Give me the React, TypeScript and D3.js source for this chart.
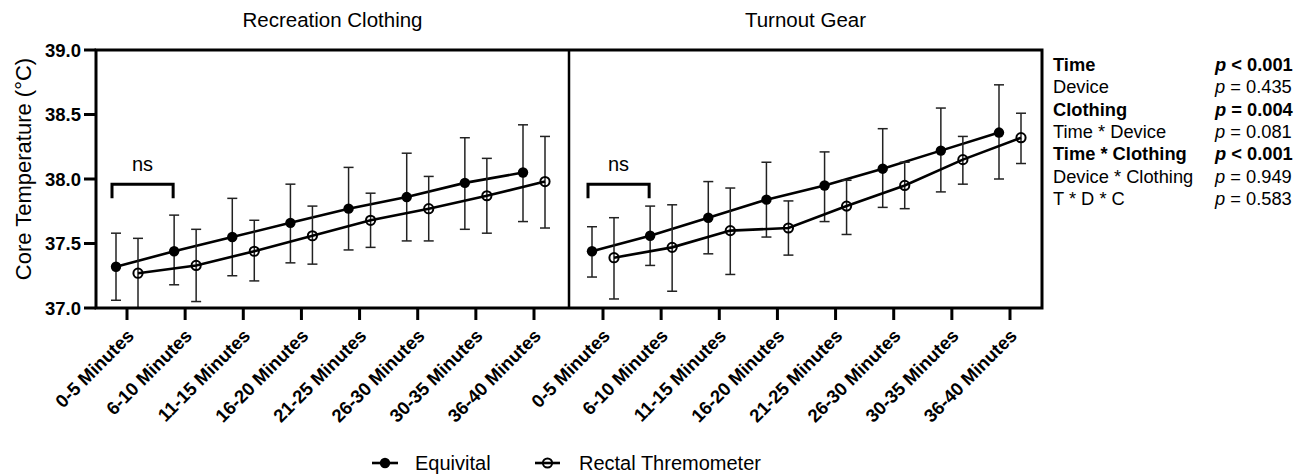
import React from "react";
import * as d3 from "d3";

// time bins (x categories)
const timeBins = [
  "0-5 Minutes",
  "6-10 Minutes",
  "11-15 Minutes",
  "16-20 Minutes",
  "21-25 Minutes",
  "26-30 Minutes",
  "30-35 Minutes",
  "36-40 Minutes",
];

const yTicks = [37.0, 37.5, 38.0, 38.5, 39.0];

// Recreation clothing
const recEquivMean = [37.32, 37.44, 37.55, 37.66, 37.77, 37.86, 37.97, 38.05];
const recEquivLo = [37.06, 37.18, 37.25, 37.35, 37.45, 37.52, 37.61, 37.67];
const recEquivHi = [37.58, 37.72, 37.85, 37.96, 38.09, 38.2, 38.32, 38.42];
const recRectalMean = [37.27, 37.33, 37.44, 37.56, 37.68, 37.77, 37.87, 37.98];
const recRectalLo = [36.96, 37.05, 37.21, 37.34, 37.47, 37.52, 37.58, 37.62];
const recRectalHi = [37.54, 37.61, 37.68, 37.79, 37.89, 38.02, 38.16, 38.33];

// Turnout gear
const toEquivMean = [37.44, 37.56, 37.7, 37.84, 37.95, 38.08, 38.22, 38.36];
const toEquivLo = [37.24, 37.33, 37.42, 37.55, 37.67, 37.78, 37.9, 38.0];
const toEquivHi = [37.63, 37.79, 37.98, 38.13, 38.21, 38.39, 38.55, 38.73];
const toRectalMean = [37.39, 37.47, 37.6, 37.62, 37.79, 37.95, 38.15, 38.32];
const toRectalLo = [37.07, 37.13, 37.26, 37.41, 37.57, 37.77, 37.96, 38.12];
const toRectalHi = [37.7, 37.8, 37.93, 37.83, 37.99, 38.13, 38.33, 38.51];

const panelTitles = ["Recreation Clothing", "Turnout Gear"];
const nsLabel = "ns";
const bracketTop = 37.96;
const bracketLeg = 37.85;

const statTerms = [
  "Time",
  "Device",
  "Clothing",
  "Time * Device",
  "Time * Clothing",
  "Device * Clothing",
  "T * D * C",
];
const statOps = ["<", "=", "=", "=", "<", "=", "="];
const statValues = ["0.001", "0.435", "0.004", "0.081", "0.001", "0.949", "0.583"];
const statBold = [true, false, true, false, true, false, false];

const legendLabels = ["Equivital", "Rectal Thremometer"];

const W = 1309;
const H = 476;
const top = 50;
const bottom = 308;
const font = "'Liberation Sans', Arial, Helvetica, sans-serif";

const y = d3.scaleLinear().domain([37, 39]).range([bottom, top]);

const panels = [
  {
    x0: 96,
    x1: 569,
    inset: [31, 35],
    equiv: { mean: recEquivMean, lo: recEquivLo, hi: recEquivHi },
    rectal: { mean: recRectalMean, lo: recRectalLo, hi: recRectalHi },
  },
  {
    x0: 569,
    x1: 1042,
    inset: [34, 32],
    equiv: { mean: toEquivMean, lo: toEquivLo, hi: toEquivHi },
    rectal: { mean: toRectalMean, lo: toRectalLo, hi: toRectalHi },
  },
];

const dodge = 11;

function Series({ s, x, offset, open, clipId }) {
  const px = (i) => (x(timeBins[i]) as number) + offset;
  const line = d3
    .line<number>()
    .x((_, i) => px(i))
    .y((d) => y(d));
  return (
    <g>
      <g clipPath={`url(#${clipId})`} stroke="#222" strokeWidth={1.5}>
        {s.mean.map((_, i) => (
          <g key={i}>
            <line x1={px(i)} x2={px(i)} y1={y(s.lo[i])} y2={y(s.hi[i])} />
            <line x1={px(i) - 5} x2={px(i) + 5} y1={y(s.lo[i])} y2={y(s.lo[i])} />
            <line x1={px(i) - 5} x2={px(i) + 5} y1={y(s.hi[i])} y2={y(s.hi[i])} />
          </g>
        ))}
      </g>
      <path d={line(s.mean) || ""} fill="none" stroke="#000" strokeWidth={2.6} />
      {s.mean.map((d, i) =>
        open ? (
          <circle key={i} cx={px(i)} cy={y(d)} r={4.6} fill="none" stroke="#000" strokeWidth={2} />
        ) : (
          <circle key={i} cx={px(i)} cy={y(d)} r={5.2} fill="#000" />
        )
      )}
    </g>
  );
}

export default function App() {
  return (
    <svg
      width={W}
      height={H}
      style={{ position: "absolute", left: 0, top: 0, background: "#fff" }}
      fontFamily={font}
    >
      <defs>
        {panels.map((p, k) => (
          <clipPath id={`clip${k}`} key={k}>
            <rect x={p.x0} y={top} width={p.x1 - p.x0} height={bottom - top} />
          </clipPath>
        ))}
      </defs>

      {panels.map((p, k) => {
        const x = d3
          .scalePoint<string>()
          .domain(timeBins)
          .range([p.x0 + p.inset[0], p.x1 - p.inset[1]]);
        const bx0 = (x(timeBins[0]) as number) - 15;
        const bx1 = (x(timeBins[1]) as number) - 12;
        return (
          <g key={k}>
            <text
              x={(p.x0 + p.x1) / 2}
              y={27}
              textAnchor="middle"
              fontSize={20.5}
            >
              {panelTitles[k]}
            </text>
            <Series s={p.equiv} x={x} offset={-dodge} open={false} clipId={`clip${k}`} />
            <Series s={p.rectal} x={x} offset={dodge} open={true} clipId={`clip${k}`} />
            {/* ns bracket */}
            <path
              d={`M${bx0},${y(bracketLeg)}V${y(bracketTop)}H${bx1}V${y(bracketLeg)}`}
              fill="none"
              stroke="#000"
              strokeWidth={3}
            />
            <text x={(bx0 + bx1) / 2} y={y(bracketTop) - 13} textAnchor="middle" fontSize={20}>
              {nsLabel}
            </text>
            {/* x ticks */}
            {timeBins.map((t) => (
              <g key={t}>
                <line
                  x1={x(t)}
                  x2={x(t)}
                  y1={bottom}
                  y2={bottom + 12}
                  stroke="#000"
                  strokeWidth={3}
                />
                <text
                  transform={`translate(${(x(t) as number) + 8},${bottom + 29}) rotate(-45)`}
                  textAnchor="end"
                  fontSize={18.5}
                  fontWeight="bold"
                >
                  {t}
                </text>
              </g>
            ))}
          </g>
        );
      })}

      {/* frames */}
      <rect
        x={panels[0].x0}
        y={top}
        width={panels[1].x1 - panels[0].x0}
        height={bottom - top}
        fill="none"
        stroke="#000"
        strokeWidth={3}
      />
      <line x1={panels[0].x1} x2={panels[0].x1} y1={top} y2={bottom} stroke="#000" strokeWidth={2.5} />

      {/* y axis */}
      {yTicks.map((t) => (
        <g key={t}>
          <line x1={84} x2={panels[0].x0} y1={y(t)} y2={y(t)} stroke="#000" strokeWidth={3} />
          <text x={81} y={y(t)} dy="0.36em" textAnchor="end" fontSize={18.5} fontWeight="bold">
            {d3.format(".1f")(t)}
          </text>
        </g>
      ))}
      <text transform="translate(31,169) rotate(-90)" textAnchor="middle" fontSize={22}>
        Core Temperature (°C)
      </text>

      {/* stats */}
      {statTerms.map((t, i) => (
        <g key={t} fontSize={18.3} fontWeight={statBold[i] ? "bold" : "normal"}>
          <text x={1053} y={71 + i * 22.3}>
            {t}
          </text>
          <text x={1215} y={71 + i * 22.3}>
            <tspan fontStyle="italic">p</tspan>
            {` ${statOps[i]} ${statValues[i]}`}
          </text>
        </g>
      ))}

      {/* legend */}
      <g fontSize={20}>
        <line x1={372} x2={398} y1={463} y2={463} stroke="#000" strokeWidth={2.6} />
        <circle cx={385} cy={463} r={5.2} fill="#000" />
        <text x={415} y={470}>
          {legendLabels[0]}
        </text>
        <line x1={535} x2={560} y1={463} y2={463} stroke="#000" strokeWidth={2.6} />
        <circle cx={547.5} cy={463} r={4.6} fill="none" stroke="#000" strokeWidth={2} />
        <text x={579} y={470}>
          {legendLabels[1]}
        </text>
      </g>
    </svg>
  );
}
